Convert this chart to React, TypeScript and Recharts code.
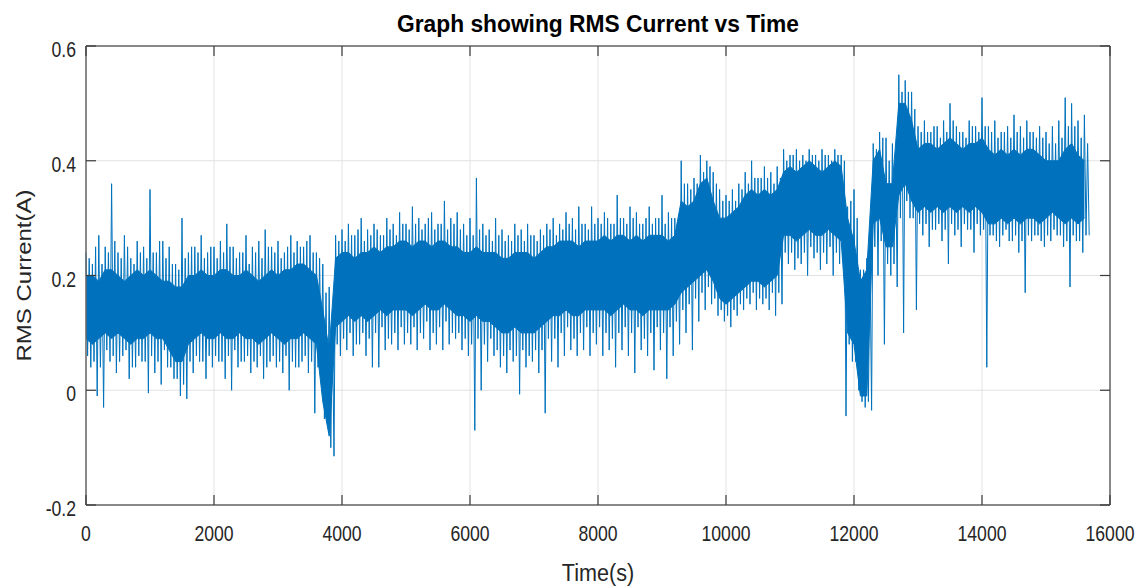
import React from 'react';
import { ComposedChart, Area, Line, XAxis, YAxis, CartesianGrid, Label } from 'recharts';

// sampling step of the hand-read envelope (seconds)
const STEP = 100;

// dense core of the signal (upper / lower edge), one value per 100 s from t = 0
const coreHi = [
  0.20, 0.20, 0.19, 0.21, 0.21, 0.20, 0.19, 0.20, 0.21, 0.20,
  0.21, 0.20, 0.19, 0.19, 0.18, 0.18, 0.20, 0.20, 0.21, 0.20,
  0.20, 0.21, 0.21, 0.20, 0.20, 0.21, 0.20, 0.19, 0.20, 0.21,
  0.20, 0.21, 0.21, 0.22, 0.22, 0.21, 0.20, 0.14, 0.07, 0.23,
  0.24, 0.24, 0.23, 0.24, 0.24, 0.25, 0.24, 0.25, 0.25, 0.26,
  0.26, 0.25, 0.26, 0.26, 0.25, 0.26, 0.26, 0.25, 0.25, 0.24,
  0.24, 0.25, 0.24, 0.24, 0.24, 0.23, 0.23, 0.24, 0.24, 0.24,
  0.23, 0.24, 0.25, 0.25, 0.26, 0.26, 0.26, 0.25, 0.26, 0.26,
  0.26, 0.27, 0.26, 0.27, 0.27, 0.26, 0.27, 0.26, 0.27, 0.27,
  0.27, 0.26, 0.27, 0.33, 0.32, 0.33, 0.36, 0.37, 0.33, 0.30,
  0.30, 0.31, 0.32, 0.34, 0.35, 0.34, 0.35, 0.34, 0.35, 0.38,
  0.39, 0.38, 0.39, 0.40, 0.39, 0.38, 0.39, 0.40, 0.39, 0.30,
  0.26, 0.19, 0.21, 0.40, 0.42, 0.36, 0.36, 0.50, 0.50, 0.47,
  0.42, 0.43, 0.43, 0.42, 0.43, 0.44, 0.43, 0.42, 0.43, 0.43,
  0.44, 0.42, 0.41, 0.42, 0.41, 0.42, 0.41, 0.42, 0.42, 0.41,
  0.40, 0.40, 0.40, 0.42, 0.43, 0.41, 0.40,
];

const coreLo = [
  0.09, 0.08, 0.09, 0.10, 0.09, 0.10, 0.09, 0.08, 0.09, 0.09,
  0.10, 0.09, 0.09, 0.07, 0.05, 0.05, 0.08, 0.09, 0.10, 0.09,
  0.09, 0.10, 0.09, 0.09, 0.10, 0.09, 0.09, 0.08, 0.09, 0.10,
  0.09, 0.08, 0.09, 0.09, 0.10, 0.09, 0.08, -0.02, -0.08, 0.11,
  0.12, 0.13, 0.12, 0.13, 0.12, 0.13, 0.14, 0.13, 0.14, 0.14,
  0.14, 0.13, 0.14, 0.15, 0.14, 0.14, 0.15, 0.14, 0.13, 0.13,
  0.12, 0.13, 0.12, 0.12, 0.11, 0.10, 0.10, 0.11, 0.10, 0.10,
  0.10, 0.11, 0.12, 0.13, 0.13, 0.14, 0.13, 0.13, 0.14, 0.14,
  0.14, 0.14, 0.13, 0.14, 0.15, 0.14, 0.14, 0.13, 0.14, 0.14,
  0.14, 0.14, 0.15, 0.17, 0.18, 0.19, 0.20, 0.21, 0.19, 0.16,
  0.15, 0.16, 0.17, 0.18, 0.19, 0.19, 0.18, 0.19, 0.20, 0.27,
  0.27, 0.26, 0.27, 0.28, 0.27, 0.27, 0.28, 0.27, 0.26, 0.10,
  0.08, -0.01, -0.01, 0.29, 0.30, 0.25, 0.25, 0.34, 0.36, 0.33,
  0.31, 0.32, 0.31, 0.32, 0.31, 0.32, 0.31, 0.32, 0.31, 0.32,
  0.31, 0.29, 0.29, 0.30, 0.29, 0.30, 0.29, 0.30, 0.30, 0.29,
  0.30, 0.31, 0.30, 0.29, 0.30, 0.29, 0.30,
];

// tall upward spikes (at t) and deep downward spikes (at t + 75 s)
const spikeHi = [
  0.24, 0.22, 0.27, 0.25, 0.36, 0.24, 0.27, 0.23, 0.26, 0.25,
  0.35, 0.24, 0.26, 0.25, 0.22, 0.30, 0.24, 0.25, 0.27, 0.24,
  0.25, 0.26, 0.29, 0.25, 0.24, 0.27, 0.25, 0.26, 0.28, 0.25,
  0.26, 0.24, 0.27, 0.26, 0.25, 0.27, 0.24, 0.22, 0.18, 0.27,
  0.28, 0.29, 0.27, 0.30, 0.28, 0.29, 0.27, 0.30, 0.29, 0.31,
  0.29, 0.32, 0.30, 0.29, 0.31, 0.29, 0.33, 0.30, 0.31, 0.29,
  0.30, 0.37, 0.29, 0.28, 0.30, 0.28, 0.27, 0.29, 0.28, 0.29,
  0.27, 0.28, 0.29, 0.30, 0.29, 0.31, 0.30, 0.32, 0.29, 0.32,
  0.30, 0.31, 0.29, 0.34, 0.30, 0.32, 0.31, 0.29, 0.32, 0.30,
  0.34, 0.31, 0.30, 0.40, 0.36, 0.37, 0.41, 0.40, 0.38, 0.35,
  0.34, 0.35, 0.36, 0.38, 0.40, 0.37, 0.39, 0.38, 0.39, 0.42,
  0.41, 0.42, 0.41, 0.42, 0.41, 0.42, 0.41, 0.42, 0.41, 0.32,
  0.35, 0.21, 0.23, 0.43, 0.45, 0.44, 0.43, 0.55, 0.54, 0.52,
  0.46, 0.47, 0.45, 0.46, 0.47, 0.50, 0.46, 0.45, 0.47, 0.46,
  0.51, 0.46, 0.47, 0.45, 0.46, 0.48, 0.46, 0.47, 0.45, 0.46,
  0.45, 0.46, 0.47, 0.51, 0.50, 0.47, 0.48,
];

const spikeLo = [
  0.04, -0.01, -0.03, 0.05, 0.03, 0.06, 0.02, 0.04, 0.05, -0.005,
  0.03, 0.01, 0.04, 0.02, -0.01, -0.015, 0.03, 0.05, 0.02, 0.04,
  0.05, 0.02, 0.00, 0.04, 0.05, 0.03, 0.04, 0.02, 0.05, 0.04,
  0.03, 0.00, 0.04, 0.05, 0.03, -0.04, 0.02, -0.06, -0.115, 0.06,
  0.07, 0.06, 0.08, 0.06, 0.04, 0.04, 0.07, 0.08, 0.07, 0.08,
  0.08, 0.07, 0.09, 0.07, 0.08, 0.07, 0.08, 0.09, 0.07, 0.06,
  -0.07, 0.00, 0.05, 0.06, 0.04, 0.03, 0.05, -0.007, 0.04, 0.05,
  0.03, -0.04, 0.05, 0.04, 0.06, 0.07, 0.06, 0.07, 0.06, 0.08,
  0.06, 0.07, 0.04, 0.07, 0.06, 0.03, 0.07, 0.06, 0.035, 0.07,
  0.02, 0.06, 0.08, 0.10, 0.07, 0.12, 0.14, 0.15, 0.13, 0.12,
  0.11, 0.13, 0.14, 0.15, 0.14, 0.15, 0.14, 0.13, 0.15, 0.22,
  0.21, 0.22, 0.20, 0.23, 0.21, 0.22, 0.20, 0.22, -0.045, 0.05,
  0.00, -0.03, -0.035, 0.20, 0.08, 0.20, 0.18, 0.10, 0.30, 0.14,
  0.27, 0.25, 0.28, 0.26, 0.22, 0.27, 0.25, 0.28, 0.24, 0.27,
  0.04, 0.27, 0.25, 0.28, 0.26, 0.24, 0.17, 0.26, 0.27, 0.25,
  0.26, 0.27, 0.25, 0.18, 0.26, 0.24, 0.27,
];

// smaller spikes in between (low at t + 25 s, high at t + 50 s)
const midLo = [
  0.06, 0.05, 0.04, 0.07, 0.06, 0.05, 0.07, 0.04, 0.06, 0.05,
  0.06, 0.05, 0.07, 0.04, 0.02, 0.01, 0.05, 0.06, 0.05, 0.06,
  0.06, 0.05, 0.06, 0.07, 0.05, 0.06, 0.05, 0.06, 0.04, 0.06,
  0.05, 0.06, 0.05, 0.04, 0.06, 0.05, 0.04, -0.05, -0.10, 0.08,
  0.09, 0.10, 0.08, 0.10, 0.09, 0.10, 0.11, 0.09, 0.10, 0.11,
  0.10, 0.11, 0.10, 0.12, 0.10, 0.11, 0.12, 0.10, 0.10, 0.09,
  0.08, 0.09, 0.08, 0.09, 0.07, 0.06, 0.07, 0.06, 0.07, 0.06,
  0.07, 0.07, 0.09, 0.09, 0.10, 0.11, 0.09, 0.10, 0.11, 0.10,
  0.11, 0.10, 0.09, 0.10, 0.11, 0.10, 0.11, 0.09, 0.10, 0.11,
  0.10, 0.11, 0.12, 0.14, 0.15, 0.16, 0.17, 0.18, 0.16, 0.14,
  0.13, 0.14, 0.15, 0.16, 0.17, 0.16, 0.16, 0.17, 0.17, 0.24,
  0.24, 0.23, 0.24, 0.25, 0.24, 0.24, 0.25, 0.24, 0.23, 0.08,
  0.05, -0.02, -0.02, 0.25, 0.26, 0.22, 0.22, 0.30, 0.33, 0.30,
  0.29, 0.29, 0.28, 0.29, 0.28, 0.29, 0.28, 0.29, 0.28, 0.29,
  0.28, 0.27, 0.26, 0.27, 0.26, 0.27, 0.26, 0.27, 0.27, 0.26,
  0.27, 0.28, 0.27, 0.26, 0.27, 0.26, 0.27,
];

const midHi = [
  0.23, 0.25, 0.22, 0.24, 0.26, 0.23, 0.25, 0.22, 0.24, 0.23,
  0.24, 0.26, 0.23, 0.22, 0.21, 0.23, 0.25, 0.24, 0.23, 0.25,
  0.23, 0.24, 0.25, 0.23, 0.24, 0.22, 0.24, 0.23, 0.25, 0.24,
  0.23, 0.25, 0.24, 0.25, 0.26, 0.24, 0.23, 0.17, 0.12, 0.26,
  0.26, 0.27, 0.28, 0.26, 0.27, 0.28, 0.27, 0.28, 0.27, 0.29,
  0.28, 0.29, 0.28, 0.30, 0.28, 0.29, 0.28, 0.29, 0.28, 0.27,
  0.27, 0.28, 0.27, 0.26, 0.27, 0.26, 0.26, 0.27, 0.26, 0.27,
  0.26, 0.27, 0.28, 0.27, 0.28, 0.29, 0.28, 0.29, 0.28, 0.29,
  0.29, 0.30, 0.29, 0.30, 0.29, 0.30, 0.29, 0.30, 0.29, 0.30,
  0.29, 0.30, 0.29, 0.36, 0.35, 0.36, 0.38, 0.39, 0.36, 0.33,
  0.33, 0.33, 0.35, 0.36, 0.37, 0.37, 0.37, 0.36, 0.37, 0.40,
  0.41, 0.40, 0.40, 0.41, 0.40, 0.41, 0.40, 0.41, 0.40, 0.33,
  0.30, 0.21, 0.22, 0.42, 0.44, 0.40, 0.40, 0.52, 0.52, 0.49,
  0.45, 0.45, 0.46, 0.44, 0.45, 0.47, 0.45, 0.44, 0.46, 0.45,
  0.46, 0.45, 0.44, 0.45, 0.44, 0.45, 0.44, 0.45, 0.44, 0.44,
  0.43, 0.43, 0.44, 0.46, 0.46, 0.44, 0.43,
];

const xTicks = [0, 2000, 4000, 6000, 8000, 10000, 12000, 14000, 16000];
const yTicks = [-0.2, 0, 0.2, 0.4, 0.6];

const TITLE = 'Graph showing RMS Current vs Time';
const X_LABEL = 'Time(s)';
const Y_LABEL = 'RMS Current(A)';

const times = coreHi.map((_, i) => i * STEP);
const bandData = times.map((t, i) => ({ t, band: [coreLo[i], coreHi[i]] }));
const traceData = times.flatMap((t, i) => [
  { t, v: spikeHi[i] },
  { t: t + STEP / 4, v: midLo[i] },
  { t: t + STEP / 2, v: midHi[i] },
  { t: t + (3 * STEP) / 4, v: spikeLo[i] },
]);

const BLUE = '#0072BD';
const FONT = '"Liberation Sans", Arial, Helvetica, sans-serif';
const TICK_COLOR = '#3a3a3a';
const TICK_LEN = 10;
const LEFT_GAP = 10;
const BOTTOM_GAP = 14;
const SQUEEZE = 0.8;

const fmt = (v: number) => String(v);

function BottomTick(props: any) {
  const { x, y, payload } = props;
  const axisY = y - BOTTOM_GAP;
  return (
    <g>
      <line x1={x} x2={x} y1={axisY} y2={axisY - TICK_LEN} stroke={TICK_COLOR} strokeWidth={1.2} />
      <text
        transform={`translate(${x},${axisY + 36}) scale(${SQUEEZE},1)`}
        textAnchor="middle"
        fontSize={22}
        fontFamily={FONT}
        fill="#262626"
      >
        {fmt(payload.value)}
      </text>
    </g>
  );
}

function LeftTick(props: any) {
  const { x, y, payload } = props;
  const axisX = x + LEFT_GAP;
  return (
    <g>
      <line x1={axisX} x2={axisX + TICK_LEN} y1={y} y2={y} stroke={TICK_COLOR} strokeWidth={1.2} />
      <text
        transform={`translate(${x},${y + 11}) scale(${SQUEEZE},1)`}
        textAnchor="end"
        fontSize={22}
        fontFamily={FONT}
        fill="#262626"
      >
        {fmt(payload.value)}
      </text>
    </g>
  );
}

function TopTick(props: any) {
  const { x, y } = props;
  return <line x1={x} x2={x} y1={y} y2={y + TICK_LEN} stroke={TICK_COLOR} strokeWidth={1.2} />;
}

function RightTick(props: any) {
  const { x, y } = props;
  return <line x1={x} x2={x - TICK_LEN} y1={y} y2={y} stroke={TICK_COLOR} strokeWidth={1.2} />;
}

const axisLine = { stroke: '#666666', strokeWidth: 1.5 };

export default function App() {
  return (
    <div style={{ position: 'absolute', left: 0, top: 0, width: 1144, height: 588, background: '#ffffff' }}>
      <ComposedChart width={1144} height={588} margin={{ top: 45, right: 33, left: 0, bottom: 0 }}>
        <CartesianGrid stroke="#e2e2e2" strokeWidth={1} />
        <XAxis
          type="number"
          dataKey="t"
          domain={[0, 16000]}
          ticks={xTicks}
          interval={0}
          height={83}
          tickSize={0}
          tickMargin={BOTTOM_GAP}
          tickLine={false}
          axisLine={axisLine}
          tick={<BottomTick />}
        >
          <Label
            content={(p: any) => {
              const vb = p.viewBox || { x: 86, y: 505, width: 1024, height: 83 };
              return (
                <text
                  x={0}
                  y={0}
                  transform={`translate(${vb.x + vb.width / 2},${vb.y + 76}) scale(0.9,1)`}
                  textAnchor="middle"
                  fontSize={24}
                  fontFamily={FONT}
                  fill="#262626"
                >
                  {X_LABEL}
                </text>
              );
            }}
          />
        </XAxis>
        <XAxis
          xAxisId="top"
          orientation="top"
          type="number"
          dataKey="t"
          domain={[0, 16000]}
          ticks={xTicks}
          interval={0}
          height={1}
          tickSize={0}
          tickMargin={0}
          tickLine={false}
          axisLine={axisLine}
          tick={<TopTick />}
        >
          <Label
            content={(p: any) => {
              const vb = p.viewBox || { x: 86, y: 45, width: 1024, height: 1 };
              return (
                <text
                  x={vb.x + vb.width / 2}
                  y={vb.y + vb.height - 14}
                  textAnchor="middle"
                  fontSize={23}
                  fontWeight="bold"
                  fontFamily={FONT}
                  fill="#000000"
                  textLength={402}
                  lengthAdjust="spacingAndGlyphs"
                >
                  {TITLE}
                </text>
              );
            }}
          />
        </XAxis>
        <YAxis
          type="number"
          domain={[-0.2, 0.6]}
          ticks={yTicks}
          interval={0}
          width={86}
          tickSize={0}
          tickMargin={LEFT_GAP}
          tickLine={false}
          axisLine={axisLine}
          tick={<LeftTick />}
        >
          <Label
            content={(p: any) => {
              const vb = p.viewBox || { x: 0, y: 46, width: 86, height: 459 };
              return (
                <text
                  transform={`translate(${vb.x + 31},${vb.y + vb.height / 2}) rotate(-90) scale(1,0.85)`}
                  textAnchor="middle"
                  fontSize={24}
                  fontFamily={FONT}
                  fill="#262626"
                >
                  {Y_LABEL}
                </text>
              );
            }}
          />
        </YAxis>
        <YAxis
          yAxisId="right"
          orientation="right"
          type="number"
          domain={[-0.2, 0.6]}
          ticks={yTicks}
          interval={0}
          width={1}
          tickSize={0}
          tickMargin={0}
          tickLine={false}
          axisLine={axisLine}
          tick={<RightTick />}
        />
        <Area
          xAxisId="top"
          yAxisId="right"
          data={bandData}
          dataKey="band"
          type="linear"
          stroke={BLUE}
          strokeWidth={1}
          fill={BLUE}
          fillOpacity={1}
          dot={false}
          activeDot={false}
          isAnimationActive={false}
        />
        <Line
          data={traceData}
          dataKey="v"
          type="linear"
          stroke={BLUE}
          strokeWidth={1}
          dot={false}
          activeDot={false}
          isAnimationActive={false}
        />
      </ComposedChart>
    </div>
  );
}
